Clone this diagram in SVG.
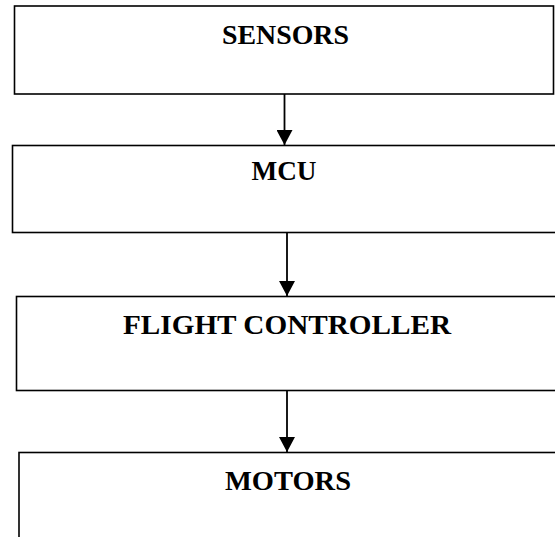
<svg xmlns="http://www.w3.org/2000/svg" width="555" height="537" viewBox="0 0 555 537">
<style>
.box{fill:#fff;stroke:#000;stroke-width:1.6}
.lbl{font-family:"Liberation Serif","Times New Roman",serif;font-weight:bold;font-size:28px;fill:#000;text-anchor:middle}
.conn{stroke:#000;stroke-width:1.8;fill:none}
</style>
<defs>
<marker id="ah" markerUnits="userSpaceOnUse" markerWidth="16" markerHeight="16" viewBox="0 0 16 16" refX="15" refY="8" orient="auto">
<path d="M0,0 L15,8 L0,16 Z" fill="#000"/>
</marker>
</defs>
<rect width="555" height="537" fill="#fff"/>
<g id="sensors">
<rect class="box" x="14.5" y="6" width="539" height="88"/>
<text class="lbl" x="285.5" y="44" textLength="127" lengthAdjust="spacingAndGlyphs">SENSORS</text>
</g>
<g id="mcu">
<rect class="box" x="12.5" y="145.5" width="560" height="87"/>
<text class="lbl" x="284" y="180" textLength="65" lengthAdjust="spacingAndGlyphs">MCU</text>
</g>
<g id="flight-controller">
<rect class="box" x="16.5" y="296.5" width="560" height="94"/>
<text class="lbl" x="287" y="334" textLength="328" lengthAdjust="spacingAndGlyphs">FLIGHT CONTROLLER</text>
</g>
<g id="motors">
<rect class="box" x="19" y="452.5" width="560" height="100"/>
<text class="lbl" x="288" y="490" textLength="126" lengthAdjust="spacingAndGlyphs">MOTORS</text>
</g>
<g id="connectors">
<line class="conn" x1="284.5" y1="94" x2="284.5" y2="145" marker-end="url(#ah)"/>
<line class="conn" x1="287" y1="233" x2="287" y2="296" marker-end="url(#ah)"/>
<line class="conn" x1="287" y1="391" x2="287" y2="452" marker-end="url(#ah)"/>
</g>
</svg>
